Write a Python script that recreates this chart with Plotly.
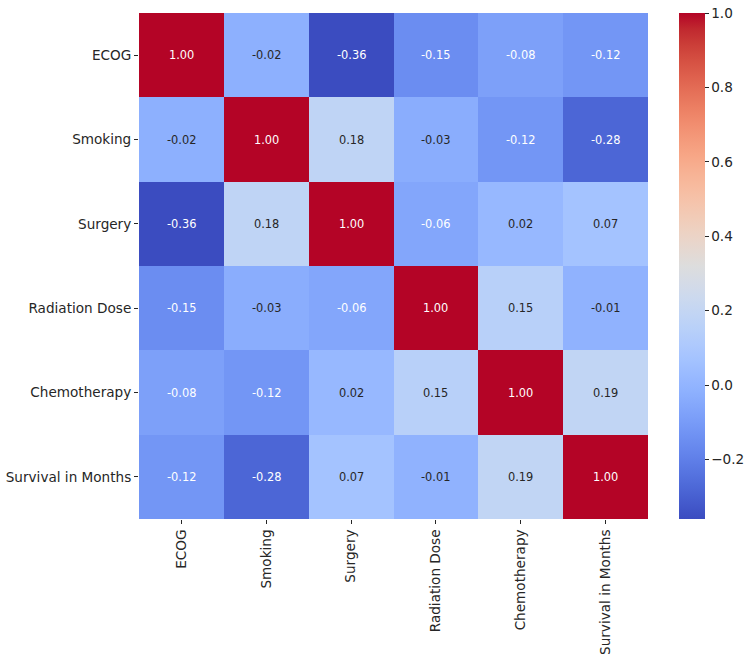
import plotly.graph_objects as go

labels = ["ECOG", "Smoking", "Surgery", "Radiation Dose", "Chemotherapy", "Survival in Months"]
corr = [
    [1.00, -0.02, -0.36, -0.15, -0.08, -0.12],
    [-0.02, 1.00, 0.18, -0.03, -0.12, -0.28],
    [-0.36, 0.18, 1.00, -0.06, 0.02, 0.07],
    [-0.15, -0.03, -0.06, 1.00, 0.15, -0.01],
    [-0.08, -0.12, 0.02, 0.15, 1.00, 0.19],
    [-0.12, -0.28, 0.07, -0.01, 0.19, 1.00],
]
cbar_ticks = [-0.2, 0.0, 0.2, 0.4, 0.6, 0.8, 1.0]

coolwarm = [
    (59, 76, 192), (68, 90, 204), (77, 104, 215), (87, 117, 225), (98, 130, 234),
    (108, 142, 241), (119, 154, 247), (130, 165, 251), (141, 176, 254), (152, 185, 255),
    (163, 194, 255), (174, 201, 253), (184, 208, 249), (194, 213, 244), (204, 217, 238),
    (213, 219, 230), (221, 221, 221), (229, 216, 209), (236, 211, 197), (241, 204, 184),
    (245, 196, 172), (247, 187, 159), (247, 177, 147), (247, 166, 134), (244, 154, 123),
    (241, 141, 111), (236, 127, 99), (229, 112, 88), (222, 96, 77), (213, 80, 66),
    (203, 62, 56), (192, 40, 47), (180, 4, 38),
]
n = len(coolwarm) - 1
colorscale = [[i / n, "rgb(%d,%d,%d)" % c] for i, c in enumerate(coolwarm)]

flat = [v for row in corr for v in row]
zmin, zmax = min(flat), max(flat)


def color_at(v):
    t = (v - zmin) / (zmax - zmin) * n
    i = min(int(t), n - 1)
    f = t - i
    a, b = coolwarm[i], coolwarm[i + 1]
    return [(a[k] + (b[k] - a[k]) * f) / 255.0 for k in range(3)]


def lum(rgb):
    out = []
    for c in rgb:
        out.append(c / 12.92 if c <= 0.03928 else ((c + 0.055) / 1.055) ** 2.4)
    return 0.2126 * out[0] + 0.7152 * out[1] + 0.0722 * out[2]


fig = go.Figure(go.Heatmap(
    z=corr, x=labels, y=labels, colorscale=colorscale, zmin=zmin, zmax=zmax,
    xgap=0, ygap=0, hoverongaps=False,
    colorbar=dict(
        thickness=26, len=1, lenmode="fraction",
        x=679 / 750, xref="container", xanchor="left", xpad=0,
        y=1, yref="paper", yanchor="top", ypad=0,
        outlinewidth=0, tickvals=cbar_ticks, tickformat=".1f",
        ticks="outside", ticklen=4, tickwidth=1, tickcolor="#262626",
        tickfont=dict(family="DejaVu Sans", size=13.6, color="#262626"),
    ),
))

annotations = []
for i, row in enumerate(corr):
    for j, v in enumerate(row):
        col = "rgb(38,38,38)" if lum(color_at(v)) > 0.408 else "white"
        annotations.append(dict(
            x=labels[j], y=labels[i], text="%.2f" % v, showarrow=False,
            font=dict(family="DejaVu Sans", size=11.4, color=col),
        ))

fig.update_layout(
    width=750, height=658,
    margin=dict(l=139, r=102, t=13, b=139),
    paper_bgcolor="white", plot_bgcolor="white",
    annotations=annotations,
    font=dict(family="DejaVu Sans", color="#262626"),
)
fig.update_xaxes(tickangle=-90, ticks="outside", ticklen=4, tickcolor="#262626",
                 tickfont=dict(size=13.6), showgrid=False, zeroline=False,
                 automargin=False)
fig.update_yaxes(autorange="reversed", ticks="outside", ticklen=4, tickcolor="#262626",
                 tickfont=dict(size=13.6), showgrid=False, zeroline=False,
                 automargin=False)

fig.write_html("out.html")
